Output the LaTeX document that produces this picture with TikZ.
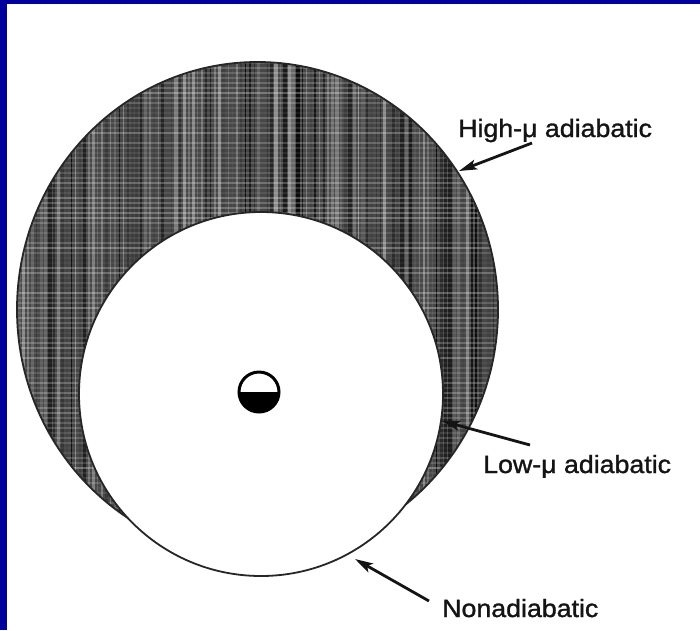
\documentclass[tikz,border=0pt]{standalone}
\usepackage{fontspec}
\setmainfont{Liberation Sans}
\newfontfamily\lblfont[FakeBold=1.2]{Liberation Sans}
\usetikzlibrary{arrows.meta}
\definecolor{frameblue}{RGB}{0,0,156}
\begin{document}
\begin{tikzpicture}[x=1pt,y=-1pt,
  lbl/.style={font=\lblfont\fontsize{25}{30}\selectfont, xscale=1.07, anchor=base west, inner sep=0pt, text=black!92},
  ptr/.style={line width=2.8pt, black!92, -{Stealth[length=18pt,width=10pt,inset=4pt]}},
  rim/.style={line width=1.8pt, black!85}]
\useasboundingbox (0,0) rectangle (700,630);
\fill[white] (0,0) rectangle (700,630);
\fill[frameblue] (0,0) rectangle (7,630);
\fill[frameblue] (0,0) rectangle (700,4);
% shaded outer disc
\begin{scope}
  \clip (257.5,309.5) ellipse [x radius=240.5, y radius=247.5];
  \fill[black!72] (0,0) rectangle (700,630);
  \pgfmathsetseed{11}
  \foreach \i in {0,...,112}{
    \pgfmathtruncatemacro\sh{45+53*rnd}
    \pgfmathsetmacro\w{0.8+3.2*rnd}
    \draw[black!\sh, line width=\w pt] ({15+\i*4.35},50) -- ({15+\i*4.35},575);
  }
  \foreach \j in {0,...,105}{
    \pgfmathsetmacro\op{0.04+0.26*rnd}
    \draw[white, opacity=\op, line width=1.2pt] (0,{58+\j*5}) -- (700,{58+\j*5});
  }
\end{scope}
\draw[rim] (257.5,309.5) ellipse [x radius=240.5, y radius=247.5];
% inner white disc
\fill[white] (261,394) circle [radius=182];
\draw[rim] (261,394) circle [radius=182];
% central symbol
\begin{scope}
  \clip (259,392) circle [radius=20];
  \fill[black] (230,392) rectangle (290,420);
\end{scope}
\draw[line width=3pt] (259,392) circle [radius=20];
% labels and pointers
\node[lbl] (hi) at (458,137) {High-μ adiabatic};
\node[lbl] (lo) at (483,473) {Low-μ adiabatic};
\node[lbl] (non) at (442,617) {Nonadiabatic};
\coordinate (hiTail) at (532,143);
\coordinate (hiTip) at (459,171);
\coordinate (loTail) at (530,445);
\coordinate (loTip) at (442,421);
\coordinate (nonTail) at (429,601);
\coordinate (nonTip) at (355,559);
\draw[ptr] (hiTail) -- (hiTip);
\draw[ptr] (loTail) -- (loTip);
\draw[ptr] (nonTail) -- (nonTip);
\end{tikzpicture}
\end{document}
